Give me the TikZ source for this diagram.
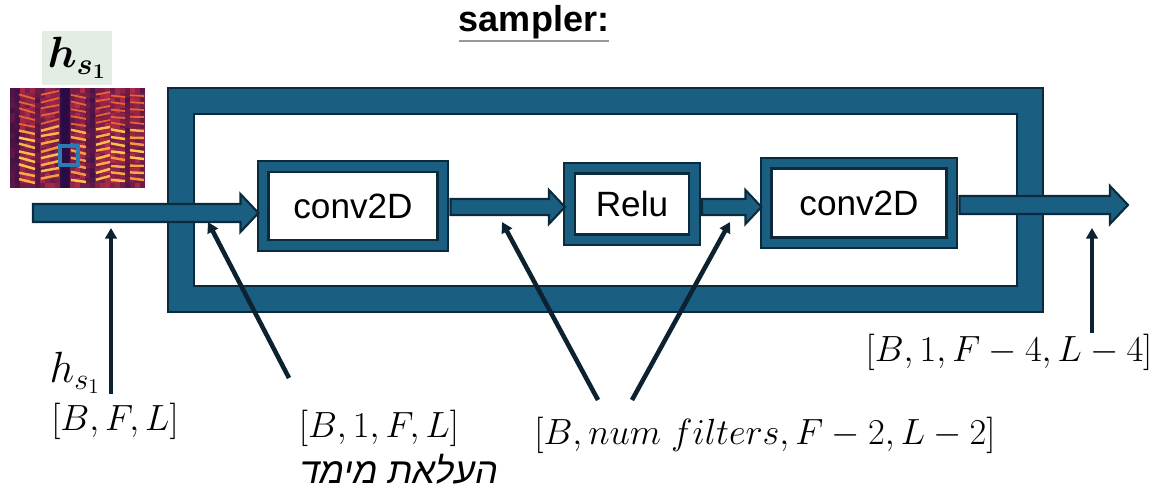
\documentclass[tikz,border=0pt]{standalone}
\usepackage{amsmath,bm}
\usepackage{fontspec}
\setmainfont{Liberation Sans}
\newfontfamily\hebfont[Script=Hebrew,FakeSlant=0.2]{Liberation Sans}
\TeXXeTstate=1
\usetikzlibrary{calc,arrows.meta}

\definecolor{frameblue}{HTML}{1A5F82}
\definecolor{edgedark}{HTML}{0B2A3B}
\definecolor{pointdark}{HTML}{0C2230}
\definecolor{tagbg}{HTML}{E4EDE4}
\definecolor{specdark}{HTML}{2A0B45}
\definecolor{specred}{HTML}{C8304A}
\definecolor{specorange}{HTML}{F07030}
\definecolor{specyellow}{HTML}{FCCB50}
\definecolor{patchblue}{HTML}{2B7BB0}

\tikzset{
stage/.style={
draw=edgedark,
double=frameblue,
double distance=5pt,
line width=1.2pt,
fill=white,
font=\fontsize{20}{24}\selectfont
},
frame/.style={
draw=edgedark,
double=frameblue,
double distance=13.5pt,
line width=1.2pt
},
flow/.style={
fill=frameblue,
draw=edgedark,
line width=1.2pt,
line join=miter
},
pointer/.style={
draw=pointdark,
line width=2.6pt,
-{Triangle[length=6pt,width=6.5pt]}
},
dims/.style={
font=\fontsize{20.5}{24}\selectfont
}
}

% block arrow: start, end, half shaft, half head, head length
\newcommand\flowto[5]{%
\path[flow] let \p1=(#1), \p2=(#2) in
(\x1,\y1) ++(0,-#3) -- ($(\x2,\y1)+(-#5,-#3)$) -- ($(\x2,\y1)+(-#5,-#4)$)
-- (\x2,\y1) -- ($(\x2,\y1)+(-#5,#4)$) -- ($(\x2,\y1)+(-#5,#3)$)
-- ($(\x1,\y1)+(0,#3)$) -- cycle;
}

\begin{document}
\begin{tikzpicture}[x=0.02cm,y=-0.02cm]
\useasboundingbox (0,0) rectangle (1171,493);

\node[inner sep=0pt,font=\fontsize{20.5}{24}\selectfont\bfseries](title) at (534,22){sampler:};
\draw[gray!80,line width=1.3pt]([yshift=-1pt]title.south west)--([yshift=-1pt]title.south east);

% spectrogram of the input
\begin{scope}
\clip (10,88) rectangle (145,188);
\pgfmathsetseed{12}
\foreach \i/\e in {0/35,1/25,2/80,3/90,4/80,5/45,6/75,7/85,8/80,9/70,10/10,11/5,12/70,13/90,
14/85,15/50,16/35,17/80,18/90,19/90,20/85,21/90,22/80,23/45,24/85,25/80,26/60}{
\foreach \j in {0,...,19}{
\pgfmathsetmacro\mixv{int(\e*(0.5+0.5*rnd))}
\fill[specred!\mixv!specdark](10+5*\i,88+5*\j) rectangle ++(5.4,5.4);
}}
% harmonics
\foreach \a/\b/\d in {19/35/5,41/59/-3,71/86/4,96/110/-2,111/125/3,130/144/2}{
\foreach \y in {94,101,...,122}{
\pgfmathsetmacro\jit{2*rnd}
\draw[specorange!80!specred,line width=1pt](\a,\y+\jit)--(\b,\y+\d);
}
\foreach \y in {129,136,...,178}{
\pgfmathsetmacro\jit{2*rnd}
\pgfmathsetmacro\mixh{int(40+60*rnd)}
\draw[specyellow!\mixh!specorange,line width=1.4pt](\a,\y+\jit)--(\b,\y+\d);
}
}
\fill[specdark](62,88) rectangle (68,188);
\end{scope}
\draw[patchblue,line width=1.8pt](60,146) rectangle (78,165);

\node[fill=tagbg,minimum width=1.2cm,minimum height=0.86cm,font=\fontsize{24}{26}\selectfont](tag) at (77,58){$\bm{h_{s_1}}$};

% sampler block
\node[frame,minimum width=16.98cm,minimum height=3.96cm](body) at (605.5,200){};

\node[stage,minimum width=3.6cm,minimum height=1.58cm](conva) at (353,206){conv2D};
\node[stage,minimum width=2.5cm,minimum height=1.44cm](relu) at (632,204){Relu};
\node[stage,minimum width=3.72cm,minimum height=1.6cm](convb) at (859,203){conv2D};

\coordinate (src) at (33,213);
\coordinate (dst) at (1128,205);

\flowto{src}{[xshift=-2pt]conva.west}{9}{19}{18}
\flowto{[xshift=3.7pt]conva.east|-0,207}{[xshift=-2pt]relu.west}{8}{17}{16}
\flowto{[xshift=3.7pt]relu.east|-0,207}{[xshift=-2pt]convb.west}{8}{17}{16}
\flowto{[xshift=3.7pt]convb.east|-0,205}{dst}{9}{19}{18}

% shape labels
\node[dims,font=\fontsize{24}{26}\selectfont](hin) at (75,373){$h_{s_1}$};
\node[dims](sin) at (115,421){$[B,F,L]$};
\node[dims](sup) at (379,428){$[B,1,F,L]$};
\node[dims](heb) at (397,469){\hebfont\beginR העלאת מימד\endR};
\node[dims](smid) at (765,435){$[B,num\ filters,F-2,L-2]$};
\node[dims](sout) at (1009,352){$[B,1,F-4,L-4]$};

\coordinate (ta) at (111,394); \coordinate (ha) at (111,228);
\coordinate (tb) at (289,378); \coordinate (hb) at (208,222);
\coordinate (tc) at (598,400); \coordinate (hc) at (502,222);
\coordinate (td) at (632,400); \coordinate (hd) at (730,222);
\coordinate (te) at (1092,333); \coordinate (he) at (1092,228);

\foreach \x/\y in {ta/ha,tb/hb,tc/hc,td/hd,te/he}
\draw[pointer](\x)--(\y);

\end{tikzpicture}
\end{document}
